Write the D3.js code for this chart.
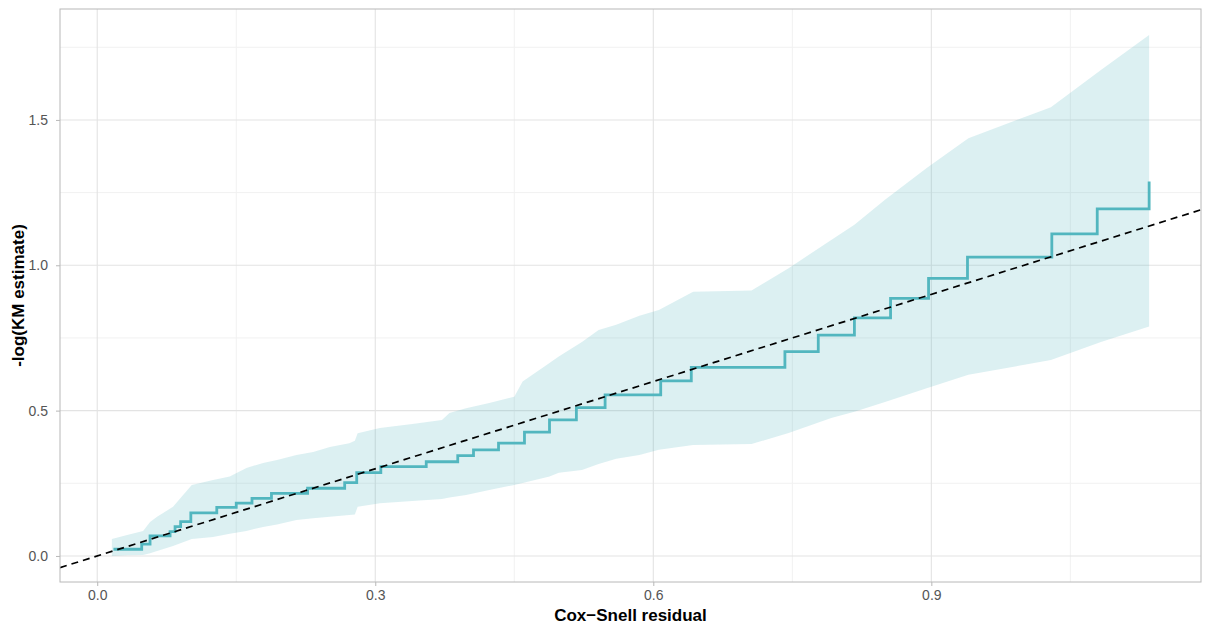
<!DOCTYPE html>
<html>
<head>
<meta charset="utf-8">
<script src="https://cdn.jsdelivr.net/npm/d3@7"></script>
<style>
    body { margin: 0; background: #fff; }
    text { font-family: "Liberation Sans", Arial, sans-serif; }
</style>
</head>
<body>
<script>
// step function: -log(KM) at each Cox-Snell residual
var stepX = [0.0175, 0.048, 0.057, 0.0786, 0.084, 0.090, 0.101, 0.129, 0.150, 0.167, 0.188,
    0.227, 0.267, 0.280, 0.306, 0.355, 0.389, 0.406, 0.433, 0.461, 0.488, 0.517, 0.548,
    0.608, 0.641, 0.742, 0.778, 0.817, 0.856, 0.897, 0.939, 1.030, 1.079, 1.135];
var stepY = [0.023, 0.041, 0.069, 0.084, 0.101, 0.118, 0.148, 0.167, 0.182, 0.198, 0.215,
    0.233, 0.252, 0.287, 0.307, 0.324, 0.345, 0.365, 0.388, 0.426, 0.468, 0.510, 0.554,
    0.602, 0.649, 0.703, 0.760, 0.819, 0.886, 0.955, 1.028, 1.108, 1.194, 1.288];

// confidence band
var bandX = [0.0158, 0.0323, 0.0495, 0.057, 0.0646, 0.0818, 0.102, 0.125, 0.143, 0.161,
    0.179, 0.194, 0.215, 0.233, 0.251, 0.272, 0.278, 0.281, 0.305, 0.340, 0.372, 0.380,
    0.398, 0.423, 0.450, 0.459, 0.488, 0.498, 0.523, 0.541, 0.560, 0.585, 0.606, 0.643,
    0.706, 0.746, 0.792, 0.817, 0.850, 0.895, 0.940, 1.029, 1.083, 1.135];
var bandUpper = [0.058, 0.072, 0.086, 0.117, 0.135, 0.169, 0.244, 0.261, 0.273, 0.303,
    0.320, 0.330, 0.347, 0.358, 0.375, 0.388, 0.396, 0.422, 0.440, 0.454, 0.468, 0.492,
    0.508, 0.526, 0.548, 0.600, 0.664, 0.686, 0.736, 0.777, 0.795, 0.826, 0.846, 0.909,
    0.913, 0.990, 1.087, 1.139, 1.225, 1.335, 1.437, 1.544, 1.672, 1.792];
var bandLower = [0.000, 0.002, 0.003, 0.009, 0.017, 0.034, 0.058, 0.065, 0.076, 0.086,
    0.100, 0.108, 0.124, 0.130, 0.135, 0.141, 0.143, 0.169, 0.181, 0.189, 0.196, 0.201,
    0.210, 0.227, 0.244, 0.251, 0.273, 0.286, 0.296, 0.316, 0.334, 0.347, 0.365, 0.382,
    0.385, 0.423, 0.475, 0.496, 0.530, 0.577, 0.623, 0.674, 0.736, 0.789];

var xTicks = [0, 0.3, 0.6, 0.9];
var xMinor = [0.15, 0.45, 0.75, 1.05];
var yTicks = [0, 0.5, 1.0, 1.5];
var yMinor = [0.25, 0.75, 1.25, 1.75];

var W = 1205, H = 626;
var margin = { top: 9, right: 4, bottom: 44, left: 60 };
var w = W - margin.left - margin.right;
var h = H - margin.top - margin.bottom;
var teal = "#52b6bf";

// ggplot style 5% expansion
var xLo = d3.min(bandX.concat(stepX)), xHi = d3.max(bandX.concat(stepX));
var yLo = d3.min(bandLower.concat(stepY)), yHi = d3.max(bandUpper.concat(stepY));
var xPad = (xHi - xLo) * 0.05, yPad = (yHi - yLo) * 0.05;

var xScale = d3.scaleLinear().domain([xLo - xPad, xHi + xPad]).range([0, w]);
var yScale = d3.scaleLinear().domain([yLo - yPad, yHi + yPad]).range([h, 0]);

var svg = d3.select("body").append("svg")
    .attr("width", W)
    .attr("height", H);

svg.append("defs").append("clipPath").attr("id", "clip")
    .append("rect").attr("width", w).attr("height", h);

var g = svg.append("g")
    .attr("transform", "translate(" + margin.left + "," + margin.top + ")");

// grid
g.selectAll(".xminor").data(xMinor).enter().append("line")
    .attr("x1", function (d) { return xScale(d); })
    .attr("x2", function (d) { return xScale(d); })
    .attr("y1", 0).attr("y2", h)
    .attr("stroke", "#f1f1f1").attr("stroke-width", 1);
g.selectAll(".yminor").data(yMinor).enter().append("line")
    .attr("y1", function (d) { return yScale(d); })
    .attr("y2", function (d) { return yScale(d); })
    .attr("x1", 0).attr("x2", w)
    .attr("stroke", "#f1f1f1").attr("stroke-width", 1);
g.selectAll(".xmajor").data(xTicks).enter().append("line")
    .attr("x1", function (d) { return xScale(d); })
    .attr("x2", function (d) { return xScale(d); })
    .attr("y1", 0).attr("y2", h)
    .attr("stroke", "#e3e3e3").attr("stroke-width", 1.1);
g.selectAll(".ymajor").data(yTicks).enter().append("line")
    .attr("y1", function (d) { return yScale(d); })
    .attr("y2", function (d) { return yScale(d); })
    .attr("x1", 0).attr("x2", w)
    .attr("stroke", "#e3e3e3").attr("stroke-width", 1.1);

var plot = g.append("g").attr("clip-path", "url(#clip)");

// band
var area = d3.area()
    .x(function (d, i) { return xScale(bandX[i]); })
    .y0(function (d, i) { return yScale(bandLower[i]); })
    .y1(function (d, i) { return yScale(bandUpper[i]); });
plot.append("path")
    .datum(bandX)
    .attr("d", area)
    .attr("fill", teal)
    .attr("fill-opacity", 0.2);

// step line
var stepLine = d3.line()
    .x(function (d, i) { return xScale(stepX[i]); })
    .y(function (d, i) { return yScale(stepY[i]); })
    .curve(d3.curveStepAfter);
plot.append("path")
    .datum(stepX)
    .attr("d", stepLine)
    .attr("fill", "none")
    .attr("stroke", teal)
    .attr("stroke-width", 2.8);

// reference line y = x
var dom = xScale.domain();
plot.append("line")
    .attr("x1", xScale(dom[0])).attr("y1", yScale(dom[0]))
    .attr("x2", xScale(dom[1])).attr("y2", yScale(dom[1]))
    .attr("stroke", "#000")
    .attr("stroke-width", 1.7)
    .attr("stroke-dasharray", "7,5");

// panel border
g.append("rect")
    .attr("width", w).attr("height", h)
    .attr("fill", "none")
    .attr("stroke", "#b8b8b8")
    .attr("stroke-width", 1);

// axes
var xAxis = g.append("g")
    .attr("transform", "translate(0," + h + ")")
    .call(d3.axisBottom(xScale).tickValues(xTicks).tickSize(4).tickPadding(4)
        .tickFormat(d3.format(".1f")));
var yAxis = g.append("g")
    .call(d3.axisLeft(yScale).tickValues(yTicks).tickSize(4).tickPadding(8)
        .tickFormat(d3.format(".1f")));
[xAxis, yAxis].forEach(function (a) {
    a.select(".domain").remove();
    a.selectAll(".tick line").attr("stroke", "#b8b8b8");
    a.selectAll(".tick text")
        .attr("fill", "#555")
        .attr("font-size", "14px")
        .attr("font-family", "Liberation Sans, Arial, sans-serif");
});

// titles
svg.append("text")
    .attr("x", margin.left + w / 2)
    .attr("y", 621)
    .attr("text-anchor", "middle")
    .attr("font-size", "17px")
    .attr("font-weight", "bold")
    .attr("fill", "#000")
    .text("Cox\u2212Snell residual");

svg.append("text")
    .attr("transform", "translate(24," + (margin.top + h / 2) + ") rotate(-90)")
    .attr("text-anchor", "middle")
    .attr("font-size", "17px")
    .attr("font-weight", "bold")
    .attr("fill", "#000")
    .text("-log(KM estimate)");
</script>
</body>
</html>
